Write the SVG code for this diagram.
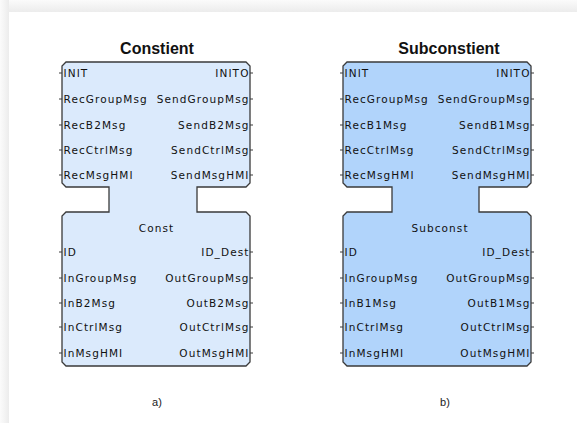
<svg xmlns="http://www.w3.org/2000/svg" width="577" height="423" viewBox="0 0 577 423">
<defs>
<linearGradient id="gTop" x1="0" y1="0" x2="0" y2="1"><stop offset="0" stop-color="#fbfbfb"/><stop offset="1" stop-color="#ececec"/></linearGradient>
<linearGradient id="gLeft" x1="0" y1="0" x2="1" y2="0"><stop offset="0" stop-color="#fbfbfb"/><stop offset="1" stop-color="#ececec"/></linearGradient>
<style>
.blk{stroke:#3a3a3a;stroke-width:1.3;stroke-linejoin:miter}
.a{fill:#dbeafc}
.b{fill:#b1d4fb}
.t{font-family:"DejaVu Sans",sans-serif;font-size:10.5px;fill:#111;letter-spacing:1.1px}
.r{text-anchor:end}
.c{text-anchor:middle}
.h{font-family:"Liberation Sans",Arial,sans-serif;font-size:16px;font-weight:bold;fill:#111;text-anchor:middle}
.lab{font-family:"Liberation Sans",Arial,sans-serif;font-size:11px;fill:#222;text-anchor:middle}
.tick{stroke:#3a3a3a;stroke-width:1}
</style>
</defs>
<rect width="577" height="423" fill="#ffffff"/>
<rect x="0" y="0" width="577" height="12" fill="url(#gTop)"/>
<rect x="0" y="0" width="9" height="423" fill="url(#gLeft)"/>
<rect x="9" y="12" width="568" height="411" fill="#ffffff"/>

<g id="constient">
<text class="h" x="157" y="54">Constient</text>
<path class="blk a" d="M66,62 L246,62 L250,66 L250,183 L246,187 L197,187 L197,212 L246,212 L250,216 L250,362 L246,366 L66,366 L62,362 L62,216 L66,212 L109,212 L109,187 L66,187 L62,183 L62,66 Z"/>
<g class="tick">
<path d="M59,73h3M59,99h3M59,125h3M59,150h3M59,175h3M250,73h3M250,99h3M250,125h3M250,150h3M250,175h3"/>
<path d="M59,252h3M59,278h3M59,303h3M59,327h3M59,353h3M250,252h3M250,278h3M250,303h3M250,327h3M250,353h3"/>
</g>
<text class="t" x="63.5" y="77">INIT</text>
<text class="t" x="63.5" y="103">RecGroupMsg</text>
<text class="t" x="63.5" y="129">RecB2Msg</text>
<text class="t" x="63.5" y="154">RecCtrlMsg</text>
<text class="t" x="63.5" y="179">RecMsgHMI</text>
<text class="t r" x="249.5" y="77">INITO</text>
<text class="t r" x="249.5" y="103">SendGroupMsg</text>
<text class="t r" x="249.5" y="129">SendB2Msg</text>
<text class="t r" x="249.5" y="154">SendCtrlMsg</text>
<text class="t r" x="249.5" y="179">SendMsgHMI</text>
<text class="t c" x="156.5" y="232">Const</text>
<text class="t" x="63.5" y="256">ID</text>
<text class="t" x="63.5" y="282">InGroupMsg</text>
<text class="t" x="63.5" y="307">InB2Msg</text>
<text class="t" x="63.5" y="331">InCtrlMsg</text>
<text class="t" x="63.5" y="357">InMsgHMI</text>
<text class="t r" x="249.5" y="256">ID_Dest</text>
<text class="t r" x="249.5" y="282">OutGroupMsg</text>
<text class="t r" x="249.5" y="307">OutB2Msg</text>
<text class="t r" x="249.5" y="331">OutCtrlMsg</text>
<text class="t r" x="249.5" y="357">OutMsgHMI</text>
</g>

<g id="subconstient">
<text class="h" x="449" y="54">Subconstient</text>
<path class="blk b" d="M347,62 L527,62 L531,66 L531,183 L527,187 L479,187 L479,212 L527,212 L531,216 L531,362 L527,366 L347,366 L343,362 L343,216 L347,212 L392,212 L392,187 L347,187 L343,183 L343,66 Z"/>
<g class="tick">
<path d="M340,73h3M340,99h3M340,125h3M340,150h3M340,175h3M531,73h3M531,99h3M531,125h3M531,150h3M531,175h3"/>
<path d="M340,252h3M340,278h3M340,303h3M340,327h3M340,353h3M531,252h3M531,278h3M531,303h3M531,327h3M531,353h3"/>
</g>
<text class="t" x="344.5" y="77">INIT</text>
<text class="t" x="344.5" y="103">RecGroupMsg</text>
<text class="t" x="344.5" y="129">RecB1Msg</text>
<text class="t" x="344.5" y="154">RecCtrlMsg</text>
<text class="t" x="344.5" y="179">RecMsgHMI</text>
<text class="t r" x="530.5" y="77">INITO</text>
<text class="t r" x="530.5" y="103">SendGroupMsg</text>
<text class="t r" x="530.5" y="129">SendB1Msg</text>
<text class="t r" x="530.5" y="154">SendCtrlMsg</text>
<text class="t r" x="530.5" y="179">SendMsgHMI</text>
<text class="t c" x="440" y="232">Subconst</text>
<text class="t" x="344.5" y="256">ID</text>
<text class="t" x="344.5" y="282">InGroupMsg</text>
<text class="t" x="344.5" y="307">InB1Msg</text>
<text class="t" x="344.5" y="331">InCtrlMsg</text>
<text class="t" x="344.5" y="357">InMsgHMI</text>
<text class="t r" x="530.5" y="256">ID_Dest</text>
<text class="t r" x="530.5" y="282">OutGroupMsg</text>
<text class="t r" x="530.5" y="307">OutB1Msg</text>
<text class="t r" x="530.5" y="331">OutCtrlMsg</text>
<text class="t r" x="530.5" y="357">OutMsgHMI</text>
</g>

<g id="connectors"></g>

<text class="lab" x="157" y="406">a)</text>
<text class="lab" x="445" y="406">b)</text>
</svg>
